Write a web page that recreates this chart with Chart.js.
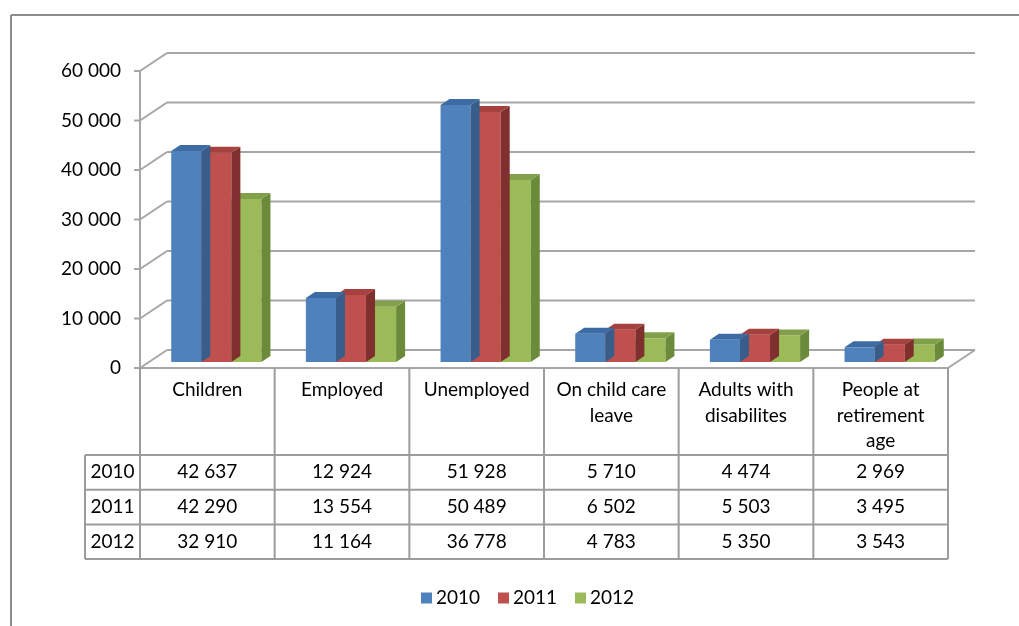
<!DOCTYPE html>
<html>
<head>
<meta charset="utf-8">
<title>Benefit recipients 2010-2012</title>
<script src="https://cdn.jsdelivr.net/npm/chart.js@4.4.0/dist/chart.umd.min.js"></script>
<style>
  html, body { margin: 0; padding: 0; background: #fff; }
  canvas { display: block; }
</style>
</head>
<body>
<canvas id="chart" width="1019" height="626"></canvas>
<script>
const categories = ['Children', 'Employed', 'Unemployed', ['On child care', 'leave'], ['Adults with', 'disabilites'], ['People at', 'retirement', 'age']];
const years = ['2010', '2011', '2012'];
const values2010 = [42637, 12924, 51928, 5710, 4474, 2969];
const values2011 = [42290, 13554, 50489, 6502, 5503, 3495];
const values2012 = [32910, 11164, 36778, 4783, 5350, 3543];
const yTicks = [0, 10000, 20000, 30000, 40000, 50000, 60000];

// front / side / top shades for each series
const shades = [
  { front: '#4f81bd', side: '#385d8a', top: '#3d6ba3' },
  { front: '#c0504d', side: '#7f2f2d', top: '#a5413e' },
  { front: '#9bbb59', side: '#6b8a3a', top: '#82a049' }
];

const FONT = '19px Lato, "Open Sans", sans-serif';
const GRID = '#a6a6a6';
const LINE = '#9c9c9c';
// bar plane sits one third into the depth; whole depth is 27px right / 18px up
const DX = 9, DY = -6;

const fmt = v => String(v).replace(/\B(?=(\d{3})+(?!\d))/g, ' ');

function line(ctx, x1, y1, x2, y2) {
  ctx.beginPath();
  ctx.moveTo(x1, y1);
  ctx.lineTo(x2, y2);
  ctx.stroke();
}

const box3d = {
  id: 'box3d',
  beforeDatasetsDraw(chart) {
    const { ctx, chartArea: a, scales: { y } } = chart;
    ctx.save();
    // outer frame
    ctx.strokeStyle = '#8c8c8c';
    ctx.lineWidth = 2;
    line(ctx, 11, 15, 1019, 15);
    line(ctx, 11, 15, 11, 626);

    // back wall gridlines and left wall diagonals
    ctx.strokeStyle = GRID;
    ctx.lineWidth = 2;
    ctx.font = FONT;
    ctx.fillStyle = '#000';
    ctx.textAlign = 'right';
    ctx.textBaseline = 'middle';
    yTicks.forEach(t => {
      const py = y.getPixelForValue(t);
      const fx = a.left - DX, fy = py - DY;
      const bx = a.left + 2 * DX, by = py + 2 * DY;
      line(ctx, bx, by, a.right + 2 * DX, by);
      line(ctx, fx, fy, bx, by);
      line(ctx, fx - 6, fy, fx, fy);
      ctx.fillText(fmt(t), fx - 19, fy);
    });
    // floor
    const base = y.getPixelForValue(0);
    line(ctx, a.left - DX, base - DY, a.right - DX, base - DY);
    line(ctx, a.right - DX, base - DY, a.right + 2 * DX, base + 2 * DY);
    // front value axis
    line(ctx, a.left - DX, y.getPixelForValue(60000) - DY, a.left - DX, base - DY);
    ctx.restore();
  },
  afterDatasetDraw(chart, args) {
    const { ctx } = chart;
    const s = shades[args.index];
    ctx.save();
    args.meta.data.forEach(bar => {
      const { x, y, base, width } = bar.getProps(['x', 'y', 'base', 'width'], true);
      const l = x - width / 2, r = x + width / 2;
      ctx.fillStyle = s.side;
      ctx.beginPath();
      ctx.moveTo(r, y); ctx.lineTo(r + DX, y + DY);
      ctx.lineTo(r + DX, base + DY); ctx.lineTo(r, base);
      ctx.closePath(); ctx.fill();
      ctx.fillStyle = s.top;
      ctx.beginPath();
      ctx.moveTo(l, y); ctx.lineTo(l + DX, y + DY);
      ctx.lineTo(r + DX, y + DY); ctx.lineTo(r, y);
      ctx.closePath(); ctx.fill();
    });
    ctx.restore();
  },
  afterDraw(chart) {
    const { ctx, chartArea: a, scales: { x }, data } = chart;
    ctx.save();
    const n = data.labels.length;
    const colW = (a.right - a.left) / n;
    const top = a.bottom - DY;
    const headBottom = 455, rowH = 34.7, labelLeft = 85;
    const rowsBottom = headBottom + rowH * data.datasets.length;

    ctx.strokeStyle = LINE;
    ctx.lineWidth = 2;
    // column boundaries
    for (let i = 0; i <= n; i++) {
      const cx = a.left - DX + i * colW;
      line(ctx, cx, top, cx, rowsBottom);
    }
    line(ctx, labelLeft, headBottom, labelLeft, rowsBottom);
    for (let r = 0; r <= data.datasets.length; r++) {
      const ry = headBottom + r * rowH;
      line(ctx, labelLeft, ry, a.right - DX, ry);
    }

    ctx.font = FONT;
    ctx.fillStyle = '#000';
    ctx.textAlign = 'center';
    ctx.textBaseline = 'middle';
    // category headers
    data.labels.forEach((lab, i) => {
      const cx = x.getPixelForValue(i) - DX;
      [].concat(lab).forEach((t, k) => ctx.fillText(t, cx, 390 + k * 25.5));
    });
    // value rows
    data.datasets.forEach((ds, r) => {
      const cy = headBottom + r * rowH + rowH / 2;
      ctx.fillText(ds.label, (labelLeft + a.left - DX) / 2, cy);
      ds.data.forEach((v, i) => ctx.fillText(fmt(v), x.getPixelForValue(i) - DX, cy));
    });

    // legend
    ctx.textAlign = 'left';
    const ly = 598, step = 77;
    let lx = 421;
    data.datasets.forEach((ds, i) => {
      ctx.fillStyle = ds.backgroundColor;
      ctx.fillRect(lx, ly - 5.5, 11, 11);
      ctx.fillStyle = '#000';
      ctx.fillText(ds.label, lx + 15, ly);
      lx += step;
    });
    ctx.restore();
  }
};

new Chart(document.getElementById('chart'), {
  type: 'bar',
  data: {
    labels: categories,
    datasets: [values2010, values2011, values2012].map((vals, i) => ({
      label: years[i],
      data: vals,
      backgroundColor: shades[i].front,
      borderWidth: 0,
      categoryPercentage: 0.67,
      barPercentage: 1.0
    }))
  },
  options: {
    responsive: false,
    animation: false,
    layout: { padding: { left: 149, right: 62, top: 65, bottom: 264 } },
    plugins: { legend: { display: false }, tooltip: { enabled: false } },
    scales: {
      x: { display: false },
      y: { display: false, min: 0, max: 60000 }
    }
  },
  plugins: [box3d]
});
</script>
</body>
</html>
